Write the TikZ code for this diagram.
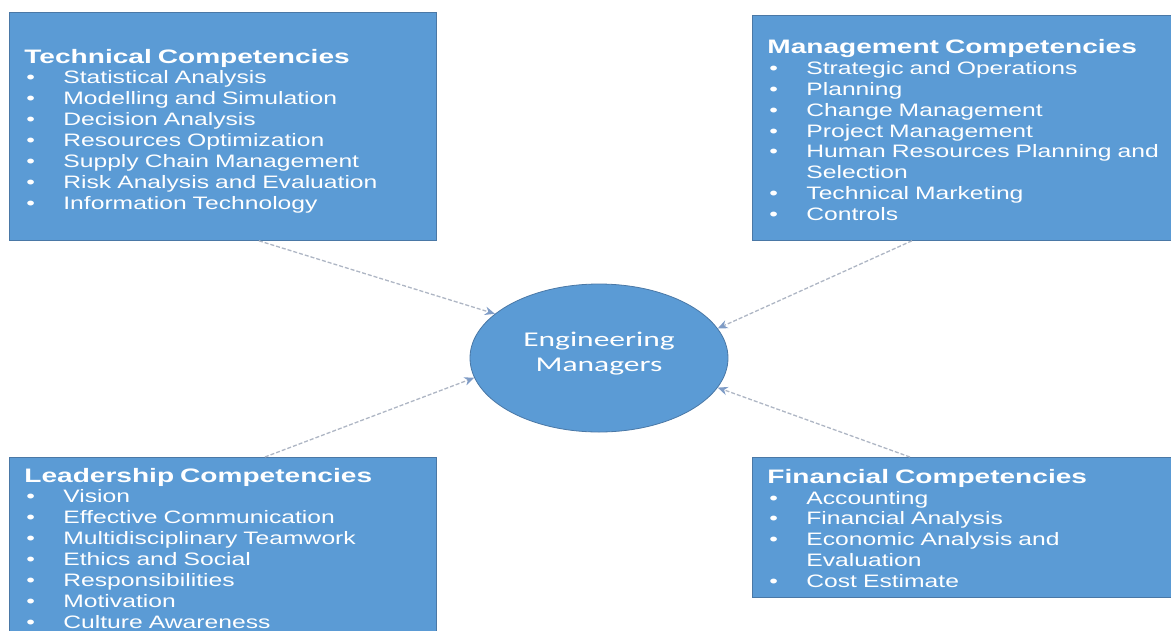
\documentclass[tikz,border=0pt]{standalone}
\usepackage{fontspec}
\setmainfont{Liberation Sans}[FakeStretch=1.37,BoldFeatures={FakeStretch=1.44}]
\newfontfamily\ellfont{Carlito}[FakeStretch=1.5]
\usetikzlibrary{arrows.meta,shapes.geometric}

\definecolor{boxblue}{HTML}{5B9BD5}
\definecolor{boxline}{HTML}{4A78A6}
\definecolor{linkgray}{HTML}{AEB6C4}
\definecolor{tipblue}{HTML}{7F9CC6}

% heading line, optional strut pushes the block down
\newcommand{\hd}[2][0pt]{{\fontsize{19.5}{20.8}\selectfont\bfseries\rule{0pt}{#1}#2}}
\newcommand{\itm}[1]{\makebox[39pt][l]{\hspace*{2pt}\textbullet}#1}

\begin{document}
\begin{tikzpicture}[x=1pt,y=-1pt,
  compbox/.style={draw=boxline, line width=0.8pt, fill=boxblue, text=white,
    anchor=north west, text width=397pt, inner xsep=15pt, align=left,
    font=\fontsize{18}{20.85}\selectfont},
  centre/.style={ellipse, draw=boxline, line width=0.8pt, fill=boxblue,
    text=white, minimum width=258pt, minimum height=148pt, align=center,
    font=\ellfont\fontsize{21}{25}\selectfont},
  link/.style={draw=linkgray, line width=1.3pt, dash pattern=on 4pt off 2pt,
    -{Stealth[length=10pt,width=8.5pt,color=tipblue,fill=tipblue]}}]

\useasboundingbox (0,0) rectangle (1171,630);
\clip (0,0) rectangle (1171,630);

% the four groups of competencies
\node[compbox, minimum height=228pt] (tech) at (9,12) {%
  \hd[23pt]{Technical Competencies}\\
  \itm{Statistical Analysis}\\
  \itm{Modelling and Simulation}\\
  \itm{Decision Analysis}\\
  \itm{Resources Optimization}\\
  \itm{Supply Chain Management}\\
  \itm{Risk Analysis and Evaluation}\\
  \itm{Information Technology}};

\node[compbox, minimum height=225pt] (mgmt) at (752,15) {%
  \hd[18.5pt]{Management Competencies}\\
  \itm{Strategic and Operations}\\
  \itm{Planning}\\
  \itm{Change Management}\\
  \itm{Project Management}\\
  \itm{Human Resources Planning and}\\
  \hspace*{39pt}Selection\\
  \itm{Technical Marketing}\\
  \itm{Controls}};

\node[compbox, minimum height=178pt] (lead) at (9,457) {%
  \hd[17.5pt]{Leadership Competencies}\\
  \itm{Vision}\\
  \itm{Effective Communication}\\
  \itm{Multidisciplinary Teamwork}\\
  \itm{Ethics and Social}\\
  \itm{Responsibilities}\\
  \itm{Motivation}\\
  \itm{Culture Awareness}};

\node[compbox, minimum height=140pt] (fin) at (752,457) {%
  \hd[16pt]{Financial Competencies}\\
  \itm{Accounting}\\
  \itm{Financial Analysis}\\
  \itm{Economic Analysis and}\\
  \hspace*{39pt}Evaluation\\
  \itm{Cost Estimate}};

% the managers in the middle
\node[centre] (em) at (599,358) {Engineering\\Managers\rule[-13pt]{0pt}{0pt}};

% dashed links into the ellipse
\draw[link] ([xshift=36pt]tech.south) -- (em.157);
\draw[link] ([xshift=-54pt]mgmt.south) -- (em.14);
\draw[link] ([xshift=42pt]lead.north) -- (em.189);
\draw[link] ([xshift=-56pt]fin.north) -- (em.346);
\end{tikzpicture}
\end{document}
